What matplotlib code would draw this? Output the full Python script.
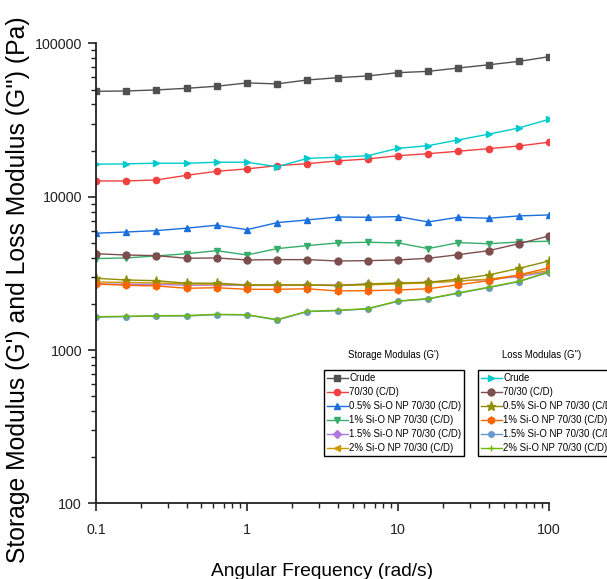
import matplotlib
matplotlib.use("Agg")
import matplotlib.pyplot as plt
from matplotlib.ticker import FixedLocator, FixedFormatter, LogLocator, NullFormatter

plt.rcParams['font.family'] = ['Liberation Sans', 'DejaVu Sans']

# angular frequency sweep, rad/s
freq = [0.1, 0.158, 0.251, 0.398, 0.631, 1.0, 1.585, 2.512,
        3.981, 6.31, 10.0, 15.85, 25.12, 39.81, 63.1, 100.0]

# storage modulus G' (Pa)
g1_crude = [48750, 49000, 49770, 51000, 52600, 55300, 54500, 57800,
            59800, 61400, 64500, 65800, 69200, 72600, 76400, 82000]
g1_7030 = [12680, 12680, 12870, 13800, 14660, 15200, 15960, 16440,
           17130, 17650, 18530, 19100, 19820, 20600, 21440, 22700]
g1_05 = [5780, 5890, 6010, 6240, 6520, 6100, 6780, 7060,
         7380, 7350, 7420, 6850, 7350, 7240, 7500, 7610]
g1_1 = [3950, 3990, 4110, 4250, 4450, 4170, 4590, 4800,
        5000, 5050, 5000, 4590, 5020, 4940, 5070, 5130]
g1_15 = [2700, 2690, 2680, 2650, 2650, 2640, 2640, 2650,
         2660, 2690, 2720, 2760, 2830, 2880, 3020, 3230]
g1_2 = [2780, 2760, 2740, 2700, 2690, 2660, 2660, 2660,
        2640, 2660, 2700, 2740, 2820, 2900, 3080, 3300]

# loss modulus G'' (Pa)
g2_crude = [16300, 16400, 16550, 16550, 16800, 16800, 15700, 17800,
            18100, 18530, 20700, 21550, 23500, 25600, 28100, 32000]
g2_7030 = [4250, 4170, 4130, 3970, 3990, 3870, 3890, 3890,
           3810, 3830, 3870, 3970, 4190, 4450, 4940, 5550]
g2_05 = [2940, 2865, 2835, 2730, 2730, 2660, 2660, 2660,
         2630, 2700, 2740, 2770, 2900, 3090, 3410, 3810]
g2_1 = [2700, 2645, 2620, 2530, 2550, 2490, 2490, 2510,
        2430, 2440, 2465, 2510, 2670, 2835, 3090, 3440]
g2_15 = [1637, 1652, 1667, 1667, 1702, 1694, 1570, 1780,
         1807, 1854, 2080, 2153, 2348, 2553, 2793, 3215]
g2_2 = [1650, 1660, 1675, 1680, 1710, 1700, 1580, 1790,
        1815, 1865, 2090, 2165, 2360, 2570, 2810, 3230]

labels = ['Crude', '70/30 (C/D)', '0.5% Si-O NP 70/30 (C/D)',
          '1% Si-O NP 70/30 (C/D)', '1.5% Si-O NP 70/30 (C/D)',
          '2% Si-O NP 70/30 (C/D)']

storage = [
    (g1_crude, '#515151', 's', 4.5),
    (g1_7030, '#F14040', 'o', 4.5),
    (g1_05, '#1A6FDF', '^', 5),
    (g1_1, '#37AD6B', 'v', 5),
    (g1_15, '#B177DE', 'D', 4),
    (g1_2, '#CC9900', '<', 5),
]
loss = [
    (g2_crude, '#00CBCC', '>', 5),
    (g2_7030, '#7D4E4E', 'o', 5),
    (g2_05, '#8E8E00', '*', 6.5),
    (g2_1, '#FB6501', 'h', 5),
    (g2_15, '#6699CC', 'o', 4),
    (g2_2, '#6FB802', '+', 5),
]

fig = plt.figure(figsize=(6.07, 5.79), dpi=100)
ax = fig.add_axes([0.158, 0.1307, 0.7465, 0.7942])

h_storage, h_loss = [], []
for vals, col, mk, ms in storage:
    ln, = ax.plot(freq, vals, color=col, marker=mk, ms=ms, lw=1, mew=1)
    h_storage.append(ln)
for vals, col, mk, ms in loss:
    ln, = ax.plot(freq, vals, color=col, marker=mk, ms=ms, lw=1, mew=1)
    h_loss.append(ln)

ax.set_xscale('log')
ax.set_yscale('log')
ax.set_xlim(0.1, 100)
ax.set_ylim(100, 100000)

ax.xaxis.set_major_locator(FixedLocator([0.1, 1, 10, 100]))
ax.xaxis.set_major_formatter(FixedFormatter(['0.1', '1', '10', '100']))
ax.xaxis.set_minor_locator(LogLocator(base=10, subs=range(2, 10)))
ax.xaxis.set_minor_formatter(NullFormatter())
ax.yaxis.set_major_locator(FixedLocator([100, 1000, 10000, 100000]))
ax.yaxis.set_major_formatter(FixedFormatter(['100', '1000', '10000', '100000']))
ax.yaxis.set_minor_locator(LogLocator(base=10, subs=range(2, 10)))
ax.yaxis.set_minor_formatter(NullFormatter())

for side in ['top', 'right']:
    ax.spines[side].set_visible(False)
for side in ['left', 'bottom']:
    ax.spines[side].set_linewidth(1.3)
    ax.spines[side].set_color('#222222')

ax.tick_params(which='major', direction='out', length=6, width=1.2,
               colors='#222222', labelsize=10.3)
ax.tick_params(axis='x', which='major', pad=8)
ax.tick_params(axis='y', which='major', pad=4)
ax.tick_params(which='minor', direction='out', length=3.5, width=1.0,
               colors='#222222')

ax.set_xlabel('Angular Frequency (rad/s)', fontsize=13.8, labelpad=19)
fig.text(18 / 607, 1 - 290 / 579,
         "Storage Modulus (G') and Loss Modulus (G'') (Pa)",
         fontsize=17.8, rotation=90, ha='center', va='center')

leg_kw = dict(loc='upper left', bbox_transform=fig.transFigure,
              fontsize=6.9, frameon=True, fancybox=False, framealpha=1,
              edgecolor='black', borderaxespad=0, borderpad=0.3,
              handlelength=2.2, handletextpad=0.15, labelspacing=0.42)

leg1 = fig.legend(h_storage, labels,
                  bbox_to_anchor=(324 / 607, 1 - 370 / 579), **leg_kw)
leg2 = fig.legend(h_loss, labels,
                  bbox_to_anchor=(478 / 607, 1 - 370 / 579), **leg_kw)
for lg in (leg1, leg2):
    lg.get_frame().set_linewidth(1.0)

fig.text(393 / 607, 1 - 355 / 579, "Storage Modulas (G')", fontsize=6.9,
         ha='center', va='center')
fig.text(542 / 607, 1 - 355 / 579, "Loss Modulas (G'')", fontsize=6.9,
         ha='center', va='center')

fig.savefig('out.png', dpi=100)
